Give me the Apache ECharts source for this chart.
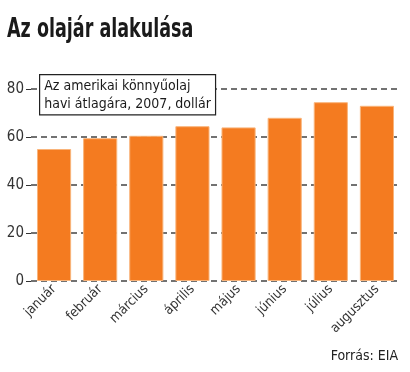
<!DOCTYPE html>
<html><head><meta charset="utf-8">
<script src="https://cdn.jsdelivr.net/npm/echarts@6/dist/echarts.min.js"></script>
<style>html,body{margin:0;padding:0;background:#fff}#c{width:410px;height:372px}</style>
</head><body><div id="c"></div>
<script>
const categories = ['január','február','március','április','május','június','július','augusztus'];
const prices = [55, 59.5, 60.5, 64.5, 64, 68, 74.5, 73];
const yTicks = [0, 20, 40, 60, 80];
const titleText = 'Az olajár alakulása';
const boxText = 'Az amerikai könnyűolaj\nhavi átlagára, 2007, dollár';
const sourceText = 'Forrás: EIA';

const FONT = '"DejaVu Sans Condensed", "Liberation Sans Narrow", sans-serif';
const chart = echarts.init(document.getElementById('c'), null, {renderer: 'canvas'});
chart.setOption({
  backgroundColor: '#fff',
  animation: false,
  grid: {left: 31, right: 10, top: 89, bottom: 91, containLabel: false},
  xAxis: {type: 'category', data: categories,
    axisLine: {show: false}, axisTick: {show: false},
    axisLabel: {rotate: 45, interval: 0, margin: 6, fontFamily: FONT, fontSize: 13.5, color: '#333'}},
  yAxis: {type: 'value', min: yTicks[0], max: yTicks[yTicks.length-1], interval: 20,
    axisLine: {show: false},
    axisTick: {show: true, length: 5, lineStyle: {color: '#333', width: 1}},
    axisLabel: {margin: 7, fontFamily: FONT, fontSize: 15, color: '#333'},
    splitLine: {show: true, lineStyle: {color: '#444', width: 1.5, type: [6, 4]}}},
  series: [{type: 'bar', data: prices, barCategoryGap: '26%',
    itemStyle: {color: '#f47b20', borderColor: '#f9b47a', borderWidth: 1}, z: 1}],
  graphic: [
    {type: 'text', x: 7, y: 17, scaleX: 0.75, z: 10,
      style: {text: titleText, fontFamily: FONT, fontWeight: 'bold', fontSize: 26, fill: '#1a1a1a'}},
    {type: 'text', left: 39, top: 74, z: 10,
      style: {text: boxText, fontFamily: FONT, fontSize: 14, lineHeight: 18, fill: '#1a1a1a',
        backgroundColor: '#fff', borderColor: '#222', borderWidth: 1.2, padding: [2, 4, 1, 4]}},
    {type: 'text', right: 12, bottom: 9,
      style: {text: sourceText, fontFamily: FONT, fontSize: 14, fill: '#222'}}
  ]
});
</script></body></html>
